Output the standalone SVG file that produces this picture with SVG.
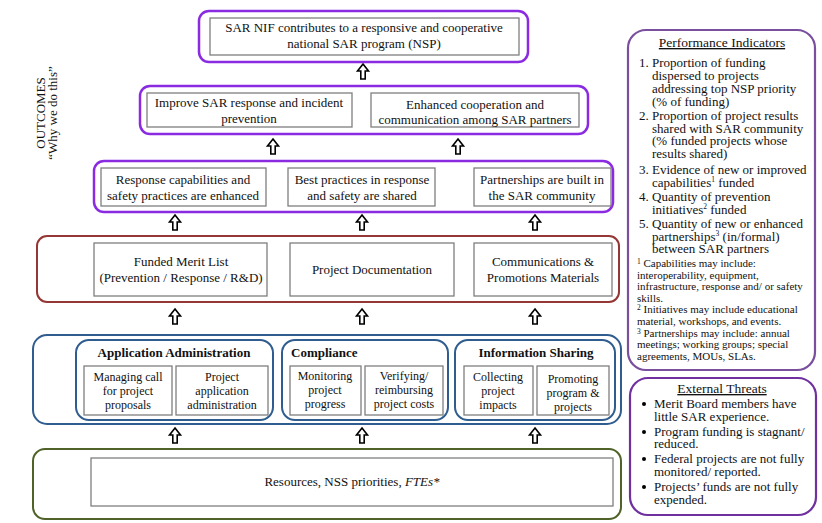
<svg xmlns="http://www.w3.org/2000/svg" width="822" height="523" viewBox="0 0 822 523">
<style>
text{font-family:"Liberation Serif","Times New Roman",serif;fill:#111;}
.t{font-size:13px;text-anchor:middle;}
.s{font-size:12px;text-anchor:middle;}
.b{font-size:13px;font-weight:bold;}
.lbl{font-size:13px;text-anchor:middle;}
.it{font-style:italic;}
.pur{fill:#fff;stroke:#8a2be2;stroke-width:2.5;}
.red{fill:#fff;stroke:#953735;stroke-width:2;}
.blu{fill:#fff;stroke:#2f5d8f;stroke-width:2;}
.grn{fill:#fff;stroke:#4f6228;stroke-width:2;}
.in{fill:#fff;stroke:#7f7f7f;stroke-width:1.3;}
.side{fill:#fff;stroke:#7a4f9e;stroke-width:2.2;}
.side2{fill:#fff;stroke:#7030a0;stroke-width:2.2;}
.pi text{font-size:13px;}
.fn text{font-size:11px;}
.sup{font-size:7.5px;}
</style>
<defs>
<path id="arr" d="M0,0 L5.5,7 L2.2,7 L2.2,15 L-2.2,15 L-2.2,7 L-5.5,7 Z" fill="#fff" stroke="#000" stroke-width="1.6" stroke-linejoin="miter"/>
</defs>
<rect width="822" height="523" fill="#fff"/>

<g id="connectors">
<use href="#arr" x="363" y="64"/>
<use href="#arr" x="273" y="139"/>
<use href="#arr" x="458" y="139"/>
<use href="#arr" x="175" y="215"/>
<use href="#arr" x="362" y="215"/>
<use href="#arr" x="535" y="215"/>
<use href="#arr" x="175" y="309"/>
<use href="#arr" x="362" y="309"/>
<use href="#arr" x="535" y="309"/>
<use href="#arr" x="175" y="428"/>
<use href="#arr" x="362" y="428"/>
<use href="#arr" x="535" y="428"/>
</g>

<g id="label-outcomes">
<text class="lbl" transform="translate(45,113) rotate(-90)">OUTCOMES</text>
<text class="lbl" transform="translate(57,113) rotate(-90)">“Why we do this”</text>
</g>
<g id="label-outputs">
<text class="lbl" transform="translate(49,269) rotate(-90)">OUTPUTS</text>
<text class="lbl it" transform="translate(61,269) rotate(-90)">“What we</text>
<text class="lbl it" transform="translate(72,269) rotate(-90)">produce”</text>
</g>
<g id="label-activities">
<text class="lbl" transform="translate(46,380) rotate(-90)">ACTIVITIES</text>
<text class="lbl it" transform="translate(58,380) rotate(-90)">“What we do”</text>
</g>
<g id="label-inputs">
<text class="lbl" transform="translate(46,484) rotate(-90)">INPUTS</text>
<text class="lbl it" transform="translate(58,484) rotate(-90)">“What we</text>
<text class="lbl it" transform="translate(69,484) rotate(-90)">invest”</text>
</g>

<g id="nsp">
<rect class="pur" x="199" y="11" width="329" height="51" rx="10"/>
<rect class="in" x="210" y="18" width="309" height="37"/>
<text class="t" x="364" y="32">SAR NIF contributes to a responsive and cooperative</text>
<text class="t" x="364" y="48">national SAR program (NSP)</text>
</g>

<g id="outcomes-intermediate">
<rect class="pur" x="140" y="86" width="448" height="48" rx="10"/>
<rect class="in" x="147" y="93" width="205" height="34"/>
<text class="t" x="249" y="107">Improve SAR response and incident</text>
<text class="t" x="249" y="123">prevention</text>
<rect class="in" x="371" y="93" width="208" height="34"/>
<text class="t" x="475" y="109">Enhanced cooperation and</text>
<text class="t" x="475" y="124">communication among SAR partners</text>
</g>

<g id="outcomes-immediate">
<rect class="pur" x="94" y="161" width="519" height="51" rx="10"/>
<rect class="in" x="101" y="168" width="165" height="38"/>
<text class="t" x="183" y="184">Response capabilities and</text>
<text class="t" x="183" y="200">safety practices are enhanced</text>
<rect class="in" x="288" y="168" width="147" height="38"/>
<text class="t" x="362" y="184">Best practices in response</text>
<text class="t" x="362" y="200">and safety are shared</text>
<rect class="in" x="474" y="168" width="137" height="38"/>
<text class="t" x="542" y="184">Partnerships are built in</text>
<text class="t" x="542" y="200">the SAR community</text>
</g>

<g id="outputs">
<rect class="red" x="37" y="236" width="582" height="66" rx="10"/>
<rect class="in" x="94" y="243" width="173" height="53"/>
<text class="t" x="181" y="266">Funded Merit List</text>
<text class="t" x="181" y="282">(Prevention / Response / R&amp;D)</text>
<rect class="in" x="290" y="243" width="164" height="53"/>
<text class="t" x="372" y="274">Project Documentation</text>
<rect class="in" x="474" y="243" width="138" height="53"/>
<text class="t" x="543" y="266">Communications &amp;</text>
<text class="t" x="543" y="282">Promotions Materials</text>
</g>

<g id="activities">
<rect class="blu" x="33" y="335" width="588" height="89" rx="14"/>
<g id="app-admin">
<rect class="blu" x="76" y="340" width="197" height="80" rx="13"/>
<text class="b" x="174" y="357" text-anchor="middle">Application Administration</text>
<rect class="in" x="84" y="366" width="88" height="49"/>
<text class="s" x="128" y="381">Managing call</text>
<text class="s" x="128" y="395">for project</text>
<text class="s" x="128" y="409">proposals</text>
<rect class="in" x="176" y="366" width="92" height="49"/>
<text class="s" x="222" y="381">Project</text>
<text class="s" x="222" y="395">application</text>
<text class="s" x="222" y="409">administration</text>
</g>
<g id="compliance">
<rect class="blu" x="282" y="340" width="166" height="80" rx="13"/>
<text class="b" x="291" y="357">Compliance</text>
<rect class="in" x="290" y="366" width="71" height="49"/>
<text class="s" x="325" y="380">Monitoring</text>
<text class="s" x="325" y="394">project</text>
<text class="s" x="325" y="408">progress</text>
<rect class="in" x="365" y="366" width="78" height="49"/>
<text class="s" x="404" y="380">Verifying/</text>
<text class="s" x="404" y="394">reimbursing</text>
<text class="s" x="404" y="408">project costs</text>
</g>
<g id="info-sharing">
<rect class="blu" x="455" y="340" width="160" height="80" rx="13"/>
<text class="b" x="536" y="357" text-anchor="middle">Information Sharing</text>
<rect class="in" x="464" y="366" width="69" height="49"/>
<text class="s" x="498" y="381">Collecting</text>
<text class="s" x="498" y="395">project</text>
<text class="s" x="498" y="409">impacts</text>
<rect class="in" x="537" y="366" width="72" height="49"/>
<text class="s" x="573" y="383">Promoting</text>
<text class="s" x="573" y="397">program &amp;</text>
<text class="s" x="573" y="411">projects</text>
</g>
</g>

<g id="inputs">
<rect class="grn" x="33" y="449" width="588" height="70" rx="12"/>
<rect class="in" x="91" y="458" width="522" height="48"/>
<text class="t" x="352" y="486">Resources, NSS priorities, <tspan font-style="italic">FTEs*</tspan></text>
</g>

<g id="performance-indicators">
<rect class="side" x="628" y="30" width="187" height="340" rx="18"/>
<text x="722" y="47" text-anchor="middle" font-size="13.5" text-decoration="underline">Performance Indicators</text>
<g class="pi">
<text x="639" y="67">1.</text>
<text x="652" y="67">Proportion of funding</text>
<text x="652" y="80">dispersed to projects</text>
<text x="652" y="93">addressing top NSP priority</text>
<text x="652" y="106">(% of funding)</text>
<text x="639" y="120">2.</text>
<text x="652" y="120">Proportion of project results</text>
<text x="652" y="133">shared with SAR community</text>
<text x="652" y="145">(% funded projects whose</text>
<text x="652" y="158">results shared)</text>
<text x="639" y="174">3.</text>
<text x="652" y="174">Evidence of new or improved</text>
<text x="652" y="187">capabilities<tspan class="sup" dy="-5">1</tspan><tspan dy="5"> funded</tspan></text>
<text x="639" y="201">4.</text>
<text x="652" y="201">Quantity of prevention</text>
<text x="652" y="214">initiatives<tspan class="sup" dy="-5">2</tspan><tspan dy="5"> funded</tspan></text>
<text x="639" y="228">5.</text>
<text x="652" y="228">Quantity of new or enhanced</text>
<text x="652" y="241">partnerships<tspan class="sup" dy="-5">3</tspan><tspan dy="5"> (in/formal)</tspan></text>
<text x="652" y="253">between SAR partners</text>
</g>
<g class="fn">
<text x="637" y="267"><tspan class="sup" dy="-3">1</tspan><tspan dy="3"> Capabilities may include:</tspan></text>
<text x="637" y="279">interoperability, equipment,</text>
<text x="637" y="290">infrastructure, response and/ or safety</text>
<text x="637" y="302">skills.</text>
<text x="637" y="313"><tspan class="sup" dy="-3">2</tspan><tspan dy="3"> Initiatives may include educational</tspan></text>
<text x="637" y="325">material, workshops, and events.</text>
<text x="637" y="337"><tspan class="sup" dy="-3">3</tspan><tspan dy="3"> Partnerships may include: annual</tspan></text>
<text x="637" y="348">meetings; working groups; special</text>
<text x="637" y="360">agreements, MOUs, SLAs.</text>
</g>
</g>

<g id="external-threats">
<rect class="side2" x="630" y="378" width="186" height="137" rx="18"/>
<text x="722" y="393" text-anchor="middle" font-size="13.5" text-decoration="underline">External Threats</text>
<g class="pi">
<circle cx="644" cy="404" r="2"/>
<text x="654" y="408">Merit Board members have</text>
<text x="654" y="421">little SAR experience.</text>
<circle cx="644" cy="432" r="2"/>
<text x="654" y="436">Program funding is stagnant/</text>
<text x="654" y="448">reduced.</text>
<circle cx="644" cy="459" r="2"/>
<text x="654" y="463">Federal projects are not fully</text>
<text x="654" y="476">monitored/ reported.</text>
<circle cx="644" cy="487" r="2"/>
<text x="654" y="491">Projects’ funds are not fully</text>
<text x="654" y="504">expended.</text>
</g>
</g>
</svg>
